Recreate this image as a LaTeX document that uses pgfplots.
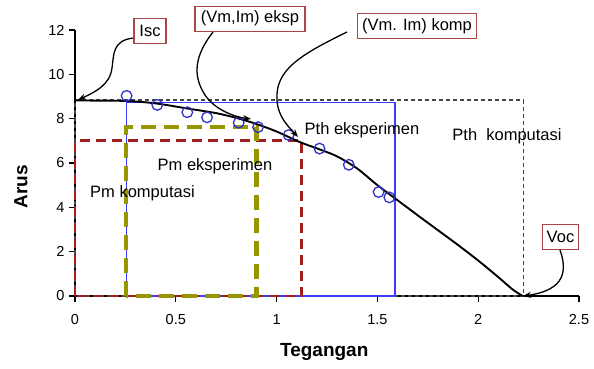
\documentclass[border=0pt]{standalone}
\usepackage{fontspec}
\setmainfont{Liberation Sans}
\usepackage{pgfplots}
\pgfplotsset{compat=1.18}
\usetikzlibrary{arrows.meta}
\definecolor{cblue}{RGB}{50,50,200}
\definecolor{bbox}{RGB}{60,60,255}
\definecolor{gbox}{RGB}{70,70,70}
\definecolor{rbox}{RGB}{165,30,30}
\definecolor{obox}{RGB}{150,150,0}
\definecolor{abox}{RGB}{170,70,70}
\begin{document}
\begin{tikzpicture}
\begin{axis}[
  scale only axis, width=504pt, height=266pt,
  xmin=0, xmax=2.5, ymin=0, ymax=12,
  axis x line=bottom, axis y line=left,
  axis line style={-, line width=1.1pt, black},
  xtick={0,0.5,1,1.5,2,2.5}, ytick={0,2,4,6,8,10,12},
  tick align=outside, major tick length=6pt,
  tick style={line width=1.1pt, black},
  /pgf/number format/assume math mode=true,
  /pgf/number format/.cd, fixed, use period, 1000 sep={}, /pgfplots/.cd,
  ticklabel style={font=\fontsize{14.5}{16}\selectfont},
  xticklabel style={yshift=-9pt},
  yticklabel style={xshift=-1pt},
  xlabel={\textbf{Tegangan}}, ylabel={\textbf{Arus}},
  label style={font=\fontsize{19}{22}\selectfont},
  xlabel style={at={(axis description cs:0.4945,-0.211)}, anchor=center},
  ylabel style={at={(axis description cs:-0.1075,0.41)}, anchor=center, rotate=0},
  clip=false,
]
% Pth komputasi (gray dashed)
\addplot[gbox, line width=1.6pt, dash pattern=on 4pt off 3pt] coordinates {(0,0) (0,8.84) (2.225,8.84) (2.225,0) (0,0)};
% Pth eksperimen (blue)
\addplot[bbox, line width=1.4pt] coordinates {(0.256,0) (0.256,8.72) (1.587,8.72) (1.587,0) (0.256,0)};
% Pm komputasi (red dashed)
\addplot[rbox, line width=2.8pt, dash pattern=on 10pt off 6pt] coordinates {(0,0) (0,7.0) (1.125,7.0) (1.125,0) (0,0)};
% Pm eksperimen (olive dashed)
\addplot[obox, line width=4.3pt, dash pattern=on 15pt off 8pt] coordinates {(0.253,0) (0.253,7.64) (0.90,7.64) (0.90,0) (0.253,0)};
% computed I-V curve
\addplot[black, line width=1.9pt, smooth, tension=0.45] coordinates {
(0,8.82) (0.25,8.8) (0.4,8.69) (0.55,8.47) (0.7,8.25) (0.81,8.01) (0.9,7.76) (1.0,7.42) (1.116,6.94) (1.2,6.66) (1.3,6.3) (1.4,5.75) (1.5,5.0) (1.6,4.32) (1.7,3.64) (1.8,2.97) (1.9,2.3) (2.0,1.6) (2.1,0.85) (2.17,0.3) (2.22,0)};
% experimental points
\addplot[only marks, mark=o, mark size=5.3pt, cblue, mark options={line width=1.3pt}] coordinates {
(0.256,9.03) (0.408,8.62) (0.557,8.29) (0.655,8.06) (0.812,7.82) (0.908,7.62) (1.06,7.26) (1.213,6.65) (1.358,5.92) (1.506,4.69) (1.559,4.45)};
\end{axis}
\begin{scope}[shift={(-75pt,296pt)}, x=1pt, y=-1pt]
\tikzset{ann/.style={draw=abox, line width=1.3pt, fill=white, inner xsep=3pt, inner ysep=0pt, minimum height=25pt, font=\fontsize{16.5}{19}\selectfont},
         arr/.style={black, line width=1.3pt, -{Stealth[length=8pt,width=6pt]}},
         lab/.style={font=\fontsize{16.5}{19}\selectfont}}
\draw[arr] (134,38) .. controls (112,40) and (114,55) .. (112,68) .. controls (110,85) and (95,92) .. (78,100);
\draw[arr] (213,32) .. controls (195,55) and (192,75) .. (205,95) .. controls (215,110) and (235,117) .. (251,119);
\draw[arr] (347,32) .. controls (300,55) and (275,70) .. (277,100) .. controls (278,118) and (290,128) .. (298,137);
\draw[arr] (560,250) .. controls (567,270) and (566,290) .. (523,296);
\node[ann, minimum width=32pt] at (150,30.8) {Isc};
\node[ann, minimum width=110pt] at (250,18.7) {(Vm,Im) eksp};
\node[ann, minimum width=119pt] at (417,26) {(Vm. Im) komp};
\node[ann, minimum width=36pt] at (560.5,237) {Voc};
\node[lab] at (362,130) {Pth eksperimen};
\node[lab] at (507,136) {Pth\ \ komputasi};
\node[lab] at (215,166.5) {Pm eksperimen};
\node[lab] at (142.5,193.5) {Pm komputasi};
\end{scope}
\pgfresetboundingbox
\path[use as bounding box] (-75pt,-72pt) rectangle (519pt,296pt);
\end{tikzpicture}
\end{document}
